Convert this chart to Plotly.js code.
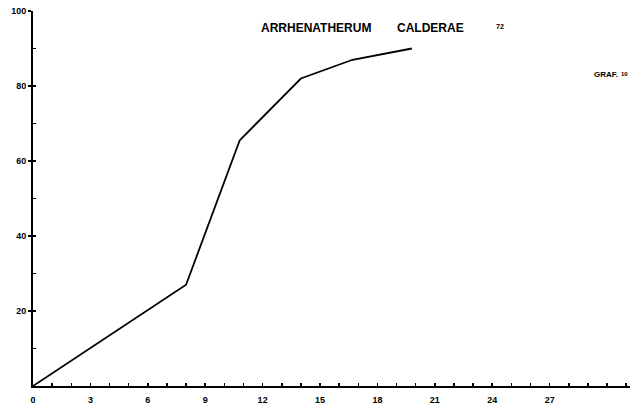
<!DOCTYPE html>
<html>
<head>
<meta charset="utf-8">
<script src="https://cdn.plot.ly/plotly-3.0.1.min.js"></script>
<style>html,body{margin:0;padding:0;background:#fff;}#chart{width:631px;height:408px;}</style>
</head>
<body>
<div id="chart"></div>
<script>
// Data
const days = [0, 8, 10.8, 14, 16.7, 19.8];
const percent = [0, 27, 65.5, 82, 87, 90];
const xTickVals = [0, 3, 6, 9, 12, 15, 18, 21, 24, 27];
const xTickText = ['0', '3', '6', '9', '12', '15', '18', '21', '24', '27'];
const yTickVals = [20, 40, 60, 80, 100];
const yTickText = ['20', '40', '60', '80', '100'];
const titleWord1 = 'ARRHENATHERUM';
const titleWord2 = 'CALDERAE';
const titleNum = '72';
const grafLabel = 'GRAF.';
const grafNum = '10';

const FONT = 'Liberation Sans, Arial, sans-serif';
const xr = [0, 31.2];
const yr = [0, 100];

const trace = {
  x: days, y: percent, type: 'scatter', mode: 'lines',
  line: {color: '#000', width: 1.8}, hoverinfo: 'skip', showlegend: false
};

function px(xp) { return (xp - 33) / 597; }
function py(yp) { return (386 - yp) / 375; }

const layout = {
  width: 631, height: 408,
  margin: {l: 33, r: 1, t: 11, b: 22},
  paper_bgcolor: '#fff', plot_bgcolor: '#fff',
  showlegend: false,
  xaxis: {
    range: xr, showgrid: false, zeroline: false,
    showline: true, linecolor: '#000', linewidth: 2,
    tickmode: 'array', tickvals: xTickVals, ticktext: xTickText,
    ticks: 'inside', ticklen: 3, tickwidth: 1.5, tickcolor: '#000',
    ticklabelstandoff: 4,
    tickfont: {family: FONT, size: 9, color: '#000', weight: 'bold'}
  },
  xaxis2: {
    range: xr, overlaying: 'x', anchor: 'y', showgrid: false, zeroline: false,
    showline: false, tickmode: 'linear', tick0: 0, dtick: 1,
    ticks: 'inside', ticklen: 3, tickwidth: 1.5, tickcolor: '#000',
    showticklabels: false
  },
  yaxis: {
    range: yr, showgrid: false, zeroline: false,
    showline: true, linecolor: '#000', linewidth: 2,
    tickmode: 'array', tickvals: yTickVals, ticktext: yTickText,
    ticks: 'outside', ticklen: 3, tickwidth: 1.5, tickcolor: '#000',
    ticklabelstandoff: 0,
    tickfont: {family: FONT, size: 9, color: '#000', weight: 'bold'}
  },
  yaxis2: {
    range: yr, overlaying: 'y', anchor: 'x', side: 'left', showgrid: false, zeroline: false,
    showline: false, tickmode: 'linear', tick0: 0, dtick: 10,
    ticks: 'inside', ticklen: 3, tickwidth: 1.5, tickcolor: '#000',
    showticklabels: false
  },
  annotations: [
    {xref: 'paper', yref: 'paper', x: px(259), y: py(28), xanchor: 'left', yanchor: 'middle',
     text: titleWord1, showarrow: false, font: {family: FONT, size: 12, color: '#000', weight: 'bold'}},
    {xref: 'paper', yref: 'paper', x: px(395), y: py(28), xanchor: 'left', yanchor: 'middle',
     text: titleWord2, showarrow: false, font: {family: FONT, size: 12, color: '#000', weight: 'bold'}},
    {xref: 'paper', yref: 'paper', x: px(500), y: py(27), xanchor: 'center', yanchor: 'middle',
     text: titleNum, showarrow: false, font: {family: FONT, size: 7, color: '#000', weight: 'bold'}},
    {xref: 'paper', yref: 'paper', x: px(592), y: py(74), xanchor: 'left', yanchor: 'middle',
     text: grafLabel, showarrow: false, font: {family: FONT, size: 8, color: '#000', weight: 'bold'}},
    {xref: 'paper', yref: 'paper', x: px(624), y: py(74), xanchor: 'center', yanchor: 'middle',
     text: grafNum, showarrow: false, font: {family: FONT, size: 6, color: '#000', weight: 'bold'}}
  ]
};

const helper = {x: [0], y: [0], xaxis: 'x2', yaxis: 'y2', type: 'scatter', mode: 'markers',
  marker: {opacity: 0}, hoverinfo: 'skip', showlegend: false};

Plotly.newPlot('chart', [trace, helper], layout, {staticPlot: true, displayModeBar: false});
</script>
</body>
</html>
